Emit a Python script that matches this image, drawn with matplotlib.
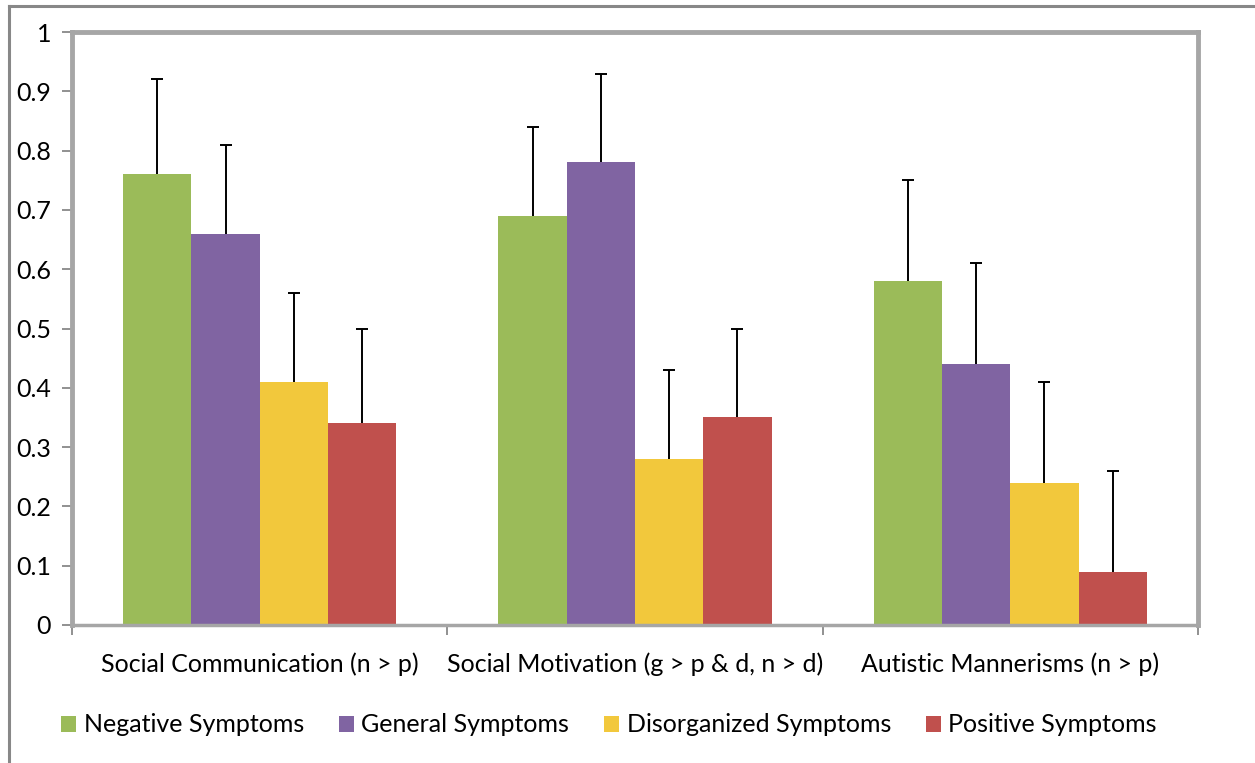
import numpy as np
import matplotlib
matplotlib.use('Agg')
import matplotlib.pyplot as plt
from matplotlib.lines import Line2D

plt.rcParams['font.family'] = ['Lato', 'DejaVu Sans']

categories = ['Social Communication (n > p)',
              'Social Motivation (g > p & d, n > d)',
              'Autistic Mannerisms (n > p)']
series_names = ['Negative Symptoms', 'General Symptoms',
                'Disorganized Symptoms', 'Positive Symptoms']
means = [
    [0.76, 0.69, 0.58],
    [0.66, 0.78, 0.44],
    [0.41, 0.28, 0.24],
    [0.34, 0.35, 0.09],
]
errors = [
    [0.16, 0.15, 0.17],
    [0.15, 0.15, 0.17],
    [0.15, 0.15, 0.17],
    [0.16, 0.15, 0.17],
]
colors = ['#9BBB59', '#8064A2', '#F2C83C', '#C0504D']
y_ticks = [0, 0.1, 0.2, 0.3, 0.4, 0.5, 0.6, 0.7, 0.8, 0.9, 1]
y_labels = ['0', '0.1', '0.2', '0.3', '0.4', '0.5', '0.6', '0.7', '0.8', '0.9', '1']

fig = plt.figure(figsize=(12.55, 7.63), dpi=100)
ax = fig.add_axes([72 / 1255, 138 / 763, 1126 / 1255, 593 / 763])

# outer chart frame (only left and top visible in the picture)
fig.add_artist(Line2D([8.5 / 1255, 8.5 / 1255], [0, 1 - 6 / 763],
                      transform=fig.transFigure, color='#888888', lw=2.2))
fig.add_artist(Line2D([8.5 / 1255, 1], [1 - 6 / 763, 1 - 6 / 763],
                      transform=fig.transFigure, color='#888888', lw=2.2))

x = np.arange(len(categories))
width = 0.182
for i, name in enumerate(series_names):
    pos = x + (i - 1.5) * width
    ax.bar(pos, means[i], width, color=colors[i], label=name, zorder=2)
    _, caps, _ = ax.errorbar(pos, means[i], yerr=[np.zeros(3), errors[i]], fmt='none',
                             ecolor='black', elinewidth=1.4, capsize=4.5,
                             capthick=1.4, zorder=3)
    # only the upper cap is drawn in the original
    caps[0].set_visible(False)

ax.set_xlim(-0.5, 2.5)
ax.set_ylim(0, 1)
ax.set_yticks(y_ticks)
ax.set_yticklabels(y_labels, fontsize=18)
ax.set_xticks([-0.5, 0.5, 1.5, 2.5])
ax.set_xticklabels([])
ax.set_xticks(x, minor=True)
ax.set_xticklabels(categories, minor=True, fontsize=18)
ax.tick_params(axis='x', which='minor', length=0, pad=20)
ax.tick_params(axis='x', which='major', length=7, width=1.3, color='#888888')
ax.tick_params(axis='y', length=7, width=1.3, color='#888888', pad=8)

for side in ['top', 'right', 'left']:
    ax.spines[side].set_color('#A6A6A6')
    ax.spines[side].set_linewidth(3.5)
ax.spines['bottom'].set_color('#A6A6A6')
ax.spines['bottom'].set_linewidth(2.5)

fig.legend(loc='center', bbox_to_anchor=(609 / 1255, 1 - 725 / 763), ncol=4,
           frameon=False, fontsize=18, handlelength=0.6, handleheight=0.6,
           handletextpad=0.3, columnspacing=1.4)

fig.savefig('out.png', dpi=100)
